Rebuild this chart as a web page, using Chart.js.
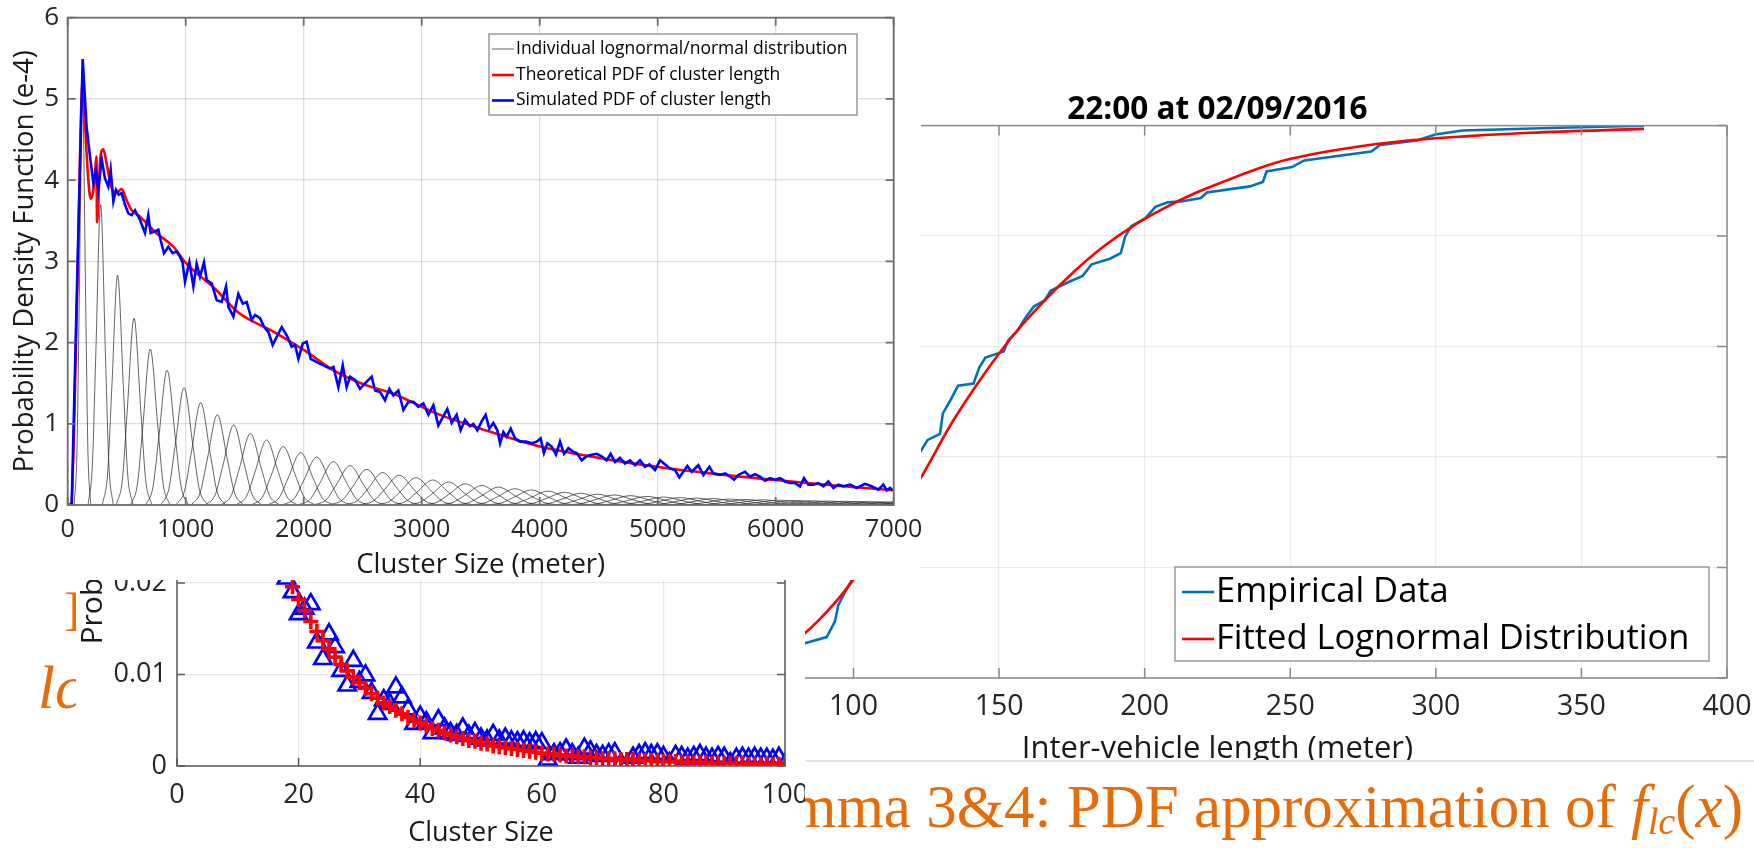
<!DOCTYPE html>
<html lang="en">
<head>
<meta charset="utf-8">
<title>Cluster length PDF</title>
<script src="https://cdn.jsdelivr.net/npm/chart.js@4.4.1/dist/chart.umd.min.js"></script>
<style>
  body { margin: 0; width: 1754px; height: 848px; position: relative; overflow: hidden; background: #fff; }
  .panel { position: absolute; background: #fff; overflow: hidden; }
  .box { position: relative; }
  .slide { position: absolute; color: #E46C0A; font-family: 'Liberation Serif', 'Times New Roman', serif; white-space: nowrap; line-height: 1; }
  .slide sub { font-size: 0.62em; vertical-align: -0.18em; line-height: 0; }
</style>
</head>
<body>

<div class="slide" style="left:64px;top:586px;font-size:47px">]</div>
<div class="slide" style="left:38px;top:657px;font-size:61px;font-style:italic">lc</div>
<div class="slide" style="right:11px;top:776px;font-size:61px">Lemma 3&amp;4: PDF approximation of <i>f</i><sub><i>lc</i></sub>(<i>x</i>)</div>

<div class="panel" style="left:600px;top:60px;width:1154px;height:700px;border-bottom:2px solid #e4e4e4;z-index:1">
  <div class="box" style="width:1154px;height:715px"><canvas id="cdfChart"></canvas></div>
</div>
<div class="panel" style="left:76px;top:360px;width:729px;height:488px;z-index:2">
  <div class="box" style="width:729px;height:488px"><canvas id="sizeChart"></canvas></div>
</div>
<div class="panel" style="left:0;top:0;width:921px;height:580px;z-index:3">
  <div class="box" style="width:921px;height:580px"><canvas id="pdfChart"></canvas></div>
</div>

<script>
// ---- top-left: PDF of cluster length (values in e-4) ----
const simX = [
  34, 76, 127, 160, 189, 217, 240, 259, 288, 316,
  344, 364, 387, 409, 432, 457, 485, 514, 542, 570,
  613, 655, 683, 703, 740, 768, 788, 816, 853, 889,
  923, 951, 974, 994, 1031, 1065, 1093, 1121, 1155, 1178,
  1220, 1263, 1305, 1342, 1362, 1404, 1446, 1483, 1517, 1559,
  1588, 1630, 1664, 1701, 1737, 1771, 1814, 1856, 1898, 1927,
  1955, 1992, 2025, 2059, 2110, 2167, 2223, 2252, 2294, 2331,
  2364, 2393, 2435, 2477, 2534, 2576, 2605, 2647, 2689, 2726,
  2760, 2802, 2845, 2887, 2930, 2972, 3014, 3057, 3099, 3141,
  3183, 3217, 3254, 3296, 3330, 3367, 3409, 3438, 3471, 3508,
  3542, 3573, 3607, 3641, 3664, 3692, 3720, 3754, 3791, 3833,
  3884, 3932, 3974, 4008, 4036, 4065, 4101, 4138, 4172, 4206,
  4243, 4279, 4313, 4356, 4398, 4440, 4483, 4525, 4567, 4601,
  4638, 4680, 4723, 4765, 4808, 4850, 4892, 4929, 4977, 5020,
  5053, 5104, 5147, 5183, 5217, 5251, 5288, 5344, 5387, 5438,
  5472, 5528, 5571, 5613, 5647, 5683, 5740, 5782, 5825, 5867,
  5909, 5952, 5994, 6037, 6079, 6121, 6164, 6206, 6240, 6277,
  6319, 6362, 6404, 6446, 6489, 6531, 6573, 6630, 6687, 6757,
  6813, 6870, 6912, 6941, 6969, 6991
];
const simY = [
  0, 2.52, 5.49, 4.66, 4.29, 3.97, 4.12, 3.88, 4.26, 4.02,
  3.92, 4.13, 3.74, 3.88, 3.82, 3.84, 3.70, 3.59, 3.57, 3.63,
  3.51, 3.35, 3.57, 3.35, 3.37, 3.39, 3.26, 3.10, 3.18, 3.10,
  3.12, 3.06, 2.98, 2.75, 2.99, 2.69, 2.97, 2.81, 2.99, 2.77,
  2.73, 2.52, 2.50, 2.69, 2.44, 2.32, 2.60, 2.48, 2.50, 2.28,
  2.34, 2.30, 2.19, 2.13, 1.97, 2.07, 2.19, 2.09, 1.95, 1.97,
  1.80, 1.99, 2.01, 1.80, 1.76, 1.72, 1.68, 1.70, 1.45, 1.72,
  1.45, 1.58, 1.54, 1.43, 1.52, 1.58, 1.41, 1.39, 1.29, 1.43,
  1.35, 1.41, 1.17, 1.27, 1.27, 1.21, 1.25, 1.11, 1.23, 0.98,
  1.09, 1.18, 1.01, 1.11, 0.92, 1.05, 0.97, 1.00, 0.92, 1.03,
  1.11, 0.94, 1.01, 0.92, 0.76, 0.90, 0.84, 0.94, 0.82, 0.78,
  0.78, 0.76, 0.78, 0.82, 0.64, 0.76, 0.72, 0.62, 0.78, 0.63,
  0.70, 0.66, 0.64, 0.55, 0.60, 0.62, 0.63, 0.60, 0.55, 0.63,
  0.53, 0.58, 0.51, 0.55, 0.49, 0.55, 0.47, 0.50, 0.43, 0.55,
  0.51, 0.45, 0.43, 0.34, 0.41, 0.48, 0.41, 0.49, 0.37, 0.47,
  0.39, 0.37, 0.39, 0.35, 0.31, 0.37, 0.41, 0.35, 0.38, 0.35,
  0.30, 0.33, 0.31, 0.33, 0.29, 0.27, 0.27, 0.23, 0.33, 0.25,
  0.25, 0.27, 0.23, 0.29, 0.21, 0.25, 0.23, 0.25, 0.21, 0.26,
  0.23, 0.19, 0.25, 0.18, 0.21, 0.18
];
const theoX = [0, 30, 80, 127, 150, 175, 195, 215, 235, 243, 249, 275, 302, 330, 373, 410, 457, 500, 542, 613,
  750, 895, 1000, 1250, 1446, 1750, 2000, 2250, 2500, 2760, 3000, 3155, 3500, 4003, 4500, 4991, 5500, 5975, 6500, 6966, 7000];
const theoY = [0, 0.02, 2.6, 5.22, 4.6, 4.0, 3.77, 3.85, 4.15, 4.29, 3.48, 4.25, 4.38, 4.2, 3.9, 3.84, 3.89, 3.75, 3.63, 3.55,
  3.35, 3.18, 2.98, 2.66, 2.37, 2.13, 1.91, 1.66, 1.49, 1.37, 1.21, 1.11, 0.94, 0.72, 0.58, 0.47, 0.38, 0.31, 0.24, 0.185, 0.18];

// individual component curves: peak position, peak height, half width at half height
const greyPeakX = [125, 279, 423, 562, 700, 842, 986, 1127, 1268, 1407, 1548, 1686, 1827, 1974, 2110, 2251, 2392, 2534,
  2669, 2810, 2952, 3093, 3229, 3370, 3510, 3650, 3790, 3930, 4070, 4210, 4350, 4490, 4630, 4770, 4910, 5050,
  5190, 5330, 5470, 5610, 5750, 5890, 6030, 6170, 6310, 6450, 6590, 6730, 6870, 7010, 7150, 7290];
const greyPeakY = [5.1, 3.70, 2.83, 2.30, 1.92, 1.66, 1.445, 1.26, 1.11, 0.985, 0.88, 0.80, 0.72, 0.645, 0.59, 0.535, 0.485, 0.44,
  0.40, 0.366, 0.336, 0.308, 0.283, 0.26, 0.24, 0.22, 0.20, 0.185, 0.17, 0.156, 0.145, 0.134, 0.124, 0.115, 0.106, 0.098,
  0.091, 0.085, 0.079, 0.073, 0.068, 0.064, 0.060, 0.056, 0.052, 0.049, 0.046, 0.043, 0.040, 0.038, 0.036, 0.034];
const greyHalfW = [27, 41, 50, 58, 64, 70, 76, 81, 86, 91, 95, 100, 104, 108, 112, 115, 118, 122,
  125, 129, 132, 136, 138, 141, 144, 147, 150, 152, 155, 158, 160, 162, 166, 168, 170, 172,
  175, 177, 179, 182, 184, 186, 189, 191, 193, 194, 197, 199, 201, 204, 205, 207];

// ---- top-right: CDF of inter-vehicle length ----
const empX = [75, 83.3, 90.8, 93.6, 94.8, 97.7, 99.4, 105, 112, 118, 122.4, 125.5, 129.7, 130.7, 133.4, 135.9, 141.2, 143.2,
  145.3, 151.6, 153.1, 156.4, 159.3, 162.0, 165.6, 167.7, 173.5, 178.7, 181.8, 188.1, 191.8, 193.3, 195.4, 200.2,
  203.7, 207.9, 213.1, 219.3, 221.4, 236.1, 240.6, 241.9, 250.6, 254.8, 277.8, 280.9, 293.5, 299.8, 309.2, 342.6, 371.5];
const empY = [0.045, 0.063, 0.074, 0.102, 0.132, 0.162, 0.177, 0.24, 0.31, 0.37, 0.405, 0.431, 0.442, 0.479, 0.504, 0.529, 0.533, 0.562,
  0.580, 0.591, 0.611, 0.629, 0.654, 0.673, 0.683, 0.701, 0.716, 0.728, 0.749, 0.759, 0.769, 0.799, 0.818, 0.832,
  0.853, 0.861, 0.863, 0.869, 0.879, 0.890, 0.898, 0.917, 0.925, 0.937, 0.953, 0.965, 0.973, 0.984, 0.991, 0.996, 1.0];
const fitX = [75, 83.3, 91.9, 99.4, 110, 122.4, 133.9, 144.3, 154.8, 165.2, 175.6, 186.1, 196.5, 206.9, 217.4, 227.8,
  238.3, 248.7, 269.6, 290.5, 311.4, 332.3, 371.5];
const fitY = [0.05, 0.081, 0.126, 0.174, 0.26, 0.356, 0.463, 0.546, 0.62, 0.681, 0.735, 0.782, 0.82, 0.851, 0.878, 0.90,
  0.921, 0.938, 0.959, 0.973, 0.981, 0.987, 0.994];

// ---- bottom-left: PMF of cluster size ----
const clusterSize = [18, 19, 20, 21, 22, 23, 24, 25, 26, 27, 28, 29, 30, 31, 32, 33, 34, 35, 36, 37, 38, 39,
  40, 41, 42, 43, 44, 45, 46, 47, 48, 49, 50, 51, 52, 53, 54, 55, 56, 57, 58, 59, 60, 61, 62, 63, 64, 65, 66, 67, 68, 69,
  70, 71, 72, 73, 74, 75, 76, 77, 78, 79, 80, 81, 82, 83, 84, 85, 86, 87, 88, 89, 90, 91, 92, 93, 94, 95, 96, 97, 98, 99, 100];
const sizeTheory = [0.0212, 0.0196, 0.0182, 0.0170, 0.0158, 0.0147, 0.0137, 0.0128, 0.0119, 0.0111, 0.0104, 0.0097, 0.0091,
  0.0085, 0.0079, 0.0074, 0.0069, 0.0065, 0.0061, 0.0057, 0.0053, 0.0050, 0.0047, 0.0044, 0.0041, 0.0039, 0.0036, 0.0034,
  0.0032, 0.0030, 0.0028, 0.0027, 0.0025, 0.0024, 0.0022, 0.0021, 0.0020, 0.0019, 0.0018, 0.0017, 0.0016, 0.0015, 0.0014,
  0.0013, 0.0013, 0.0012, 0.0011, 0.0011, 0.0010, 0.0010, 0.0009, 0.0009, 0.0008, 0.0008, 0.0008, 0.0007, 0.0007, 0.0007,
  0.0006, 0.0006, 0.0006, 0.0005, 0.0005, 0.0005, 0.0005, 0.0004, 0.0004, 0.0004, 0.0004, 0.0004, 0.0003, 0.0003, 0.0003,
  0.0003, 0.0003, 0.0003, 0.0002, 0.0002, 0.0002, 0.0002, 0.0002, 0.0002, 0.0002];
const sizeSim = [0.0205, 0.0190, 0.0166, 0.0172, 0.0177, 0.0135, 0.0117, 0.0144, 0.0130, 0.0104, 0.0088, 0.0115, 0.0092,
  0.0099, 0.0080, 0.0057, 0.0072, 0.0068, 0.0086, 0.0075, 0.0062, 0.0046, 0.0054, 0.0048, 0.0036, 0.0050, 0.0041, 0.0036,
  0.0034, 0.0041, 0.0033, 0.0036, 0.0030, 0.0028, 0.0034, 0.0028, 0.0030, 0.0027, 0.0026, 0.0027, 0.0025, 0.0026, 0.0025,
  0.0007, 0.0013, 0.0014, 0.0018, 0.0013, 0.0009, 0.0019, 0.0016, 0.0012, 0.0011, 0.0013, 0.0014, 0.0002, 0.0001, 0.0009,
  0.0012, 0.0014, 0.0012, 0.0013, 0.0010, 0.0003, 0.0011, 0.0010, 0.0008, 0.0010, 0.0012, 0.0009, 0.0008, 0.0010, 0.0009,
  0.0003, 0.0008, 0.0009, 0.0008, 0.0009, 0.0008, 0.0008, 0.0007, 0.0009, 0.0002];

const FONT = "'Open Sans', 'DejaVu Sans', sans-serif";
const TICK = '#262626';
const pts = (xs, ys) => xs.map((x, i) => ({ x: x, y: ys[i] }));

// MATLAB style box with inward tick marks
const boxFrame = {
  id: 'boxFrame',
  afterDatasetsDraw(chart, args, o) {
    const { ctx, chartArea: a } = chart;
    const x = chart.scales.x, y = chart.scales.y;
    ctx.save();
    ctx.strokeStyle = o.color;
    ctx.lineWidth = o.width;
    ctx.strokeRect(a.left, a.top, a.right - a.left, a.bottom - a.top);
    ctx.beginPath();
    x.ticks.forEach(t => {
      const p = x.getPixelForValue(t.value);
      ctx.moveTo(p, a.bottom); ctx.lineTo(p, a.bottom - o.len);
      ctx.moveTo(p, a.top); ctx.lineTo(p, a.top + o.len);
    });
    y.ticks.forEach(t => {
      const p = y.getPixelForValue(t.value);
      ctx.moveTo(a.left, p); ctx.lineTo(a.left + o.len, p);
      ctx.moveTo(a.right, p); ctx.lineTo(a.right - o.len, p);
    });
    ctx.stroke();
    ctx.restore();
  }
};

// legend drawn in a box inside the axes
const boxLegend = {
  id: 'boxLegend',
  afterDraw(chart, args, o) {
    const ctx = chart.ctx;
    ctx.save();
    ctx.fillStyle = '#fff';
    ctx.fillRect(o.x, o.y, o.w, o.h);
    ctx.strokeStyle = o.border;
    ctx.lineWidth = 1.5;
    ctx.strokeRect(o.x, o.y, o.w, o.h);
    ctx.font = o.font;
    ctx.textBaseline = 'middle';
    o.items.forEach((idx, i) => {
      const ds = chart.data.datasets[idx];
      const yy = o.y + o.rows[i];
      ctx.strokeStyle = ds.borderColor;
      ctx.lineWidth = ds.borderWidth;
      ctx.beginPath();
      ctx.moveTo(o.x + o.line[0], yy);
      ctx.lineTo(o.x + o.line[1], yy);
      ctx.stroke();
      ctx.fillStyle = '#000';
      ctx.fillText(ds.label, o.x + o.textX, yy);
    });
    ctx.restore();
  }
};

// bell outline through the read peak and the half-height crossings
const greySets = greyPeakX.map((p, i) => {
  const h = greyPeakY[i], w = greyHalfW[i];
  return {
    label: i === 0 ? 'Individual lognormal/normal distribution' : '',
    data: [
      { x: p - 2.6 * w, y: 0 }, { x: p - 1.7 * w, y: 0.135 * h }, { x: p - w, y: h / 2 }, { x: p, y: h },
      { x: p + w, y: h / 2 }, { x: p + 1.7 * w, y: 0.135 * h }, { x: p + 2.6 * w, y: 0 }
    ],
    borderColor: 'rgba(40,40,40,0.72)',
    borderWidth: 1,
    cubicInterpolationMode: 'monotone'
  };
});

new Chart(document.getElementById('pdfChart'), {
  type: 'line',
  data: {
    datasets: [
      { label: 'Simulated PDF of cluster length', data: pts(simX, simY), borderColor: '#0000FF', borderWidth: 2.6, tension: 0 },
      { label: 'Theoretical PDF of cluster length', data: pts(theoX, theoY), borderColor: '#FF0000', borderWidth: 2.6, cubicInterpolationMode: 'monotone' },
      ...greySets
    ]
  },
  options: {
    responsive: true,
    maintainAspectRatio: false,
    animation: false,
    elements: { point: { radius: 0 } },
    layout: { padding: { left: 0, right: 27.3, top: 17.7, bottom: 0 } },
    plugins: {
      legend: { display: false },
      tooltip: { enabled: false },
      boxFrame: { color: '#6e6e6e', width: 1.8, len: 8 },
      boxLegend: { x: 489, y: 34, w: 368, h: 81, rows: [15, 41, 66.5], line: [3, 25], textX: 27,
        items: [2, 1, 0], border: '#9a9a9a', font: "17.5px " + FONT }
    },
    scales: {
      x: {
        type: 'linear', min: 0, max: 7000,
        afterFit: s => { s.height = 75; s.paddingLeft = 0; s.paddingRight = 0; },
        ticks: { stepSize: 1000, color: TICK, padding: 9.4, maxRotation: 0, font: { family: FONT, size: 25 }, callback: v => String(v) },
        grid: { color: 'rgba(0,0,0,0.13)', lineWidth: 1.3, drawTicks: false },
        border: { display: false },
        title: { display: true, text: 'Cluster Size (meter)', color: '#1a1a1a', padding: { top: 0, bottom: 1.25 }, font: { family: FONT, size: 27.5, lineHeight: 1 } }
      },
      y: {
        min: 0, max: 6,
        afterFit: s => { s.width = 67.7; s.paddingTop = 0; s.paddingBottom = 0; },
        ticks: { stepSize: 1, color: TICK, padding: 8.7, font: { family: FONT, size: 26 } },
        grid: { color: 'rgba(0,0,0,0.13)', lineWidth: 1.3, drawTicks: false },
        border: { display: false },
        title: { display: true, text: 'Probability Density Function (e-4)', color: '#1a1a1a', padding: { top: 11.25, bottom: 0 }, font: { family: FONT, size: 27.5, lineHeight: 1 } }
      }
    }
  },
  plugins: [boxFrame, boxLegend]
});

new Chart(document.getElementById('cdfChart'), {
  type: 'line',
  data: {
    datasets: [
      { label: 'Fitted Lognormal Distribution', data: pts(fitX, fitY), borderColor: '#FF0000', borderWidth: 2.6, cubicInterpolationMode: 'monotone' },
      { label: 'Empirical Data', data: pts(empX, empY), borderColor: '#0072BD', borderWidth: 2.6, tension: 0 }
    ]
  },
  options: {
    responsive: true,
    maintainAspectRatio: false,
    animation: false,
    elements: { point: { radius: 0 } },
    layout: { padding: { left: 0, right: 27, top: 0, bottom: 0 } },
    plugins: {
      legend: { display: false },
      tooltip: { enabled: false },
      boxFrame: { color: '#8a8a8a', width: 1.5, len: 10 },
      boxLegend: { x: 575, y: 507, w: 534, h: 94, rows: [25, 72], line: [7, 39], textX: 41,
        items: [1, 0], border: '#9a9a9a', font: "34.5px " + FONT }
    },
    scales: {
      x: {
        type: 'linear', min: 50, max: 400,
        afterFit: s => { s.height = 97; s.paddingLeft = 0; s.paddingRight = 0; },
        ticks: { stepSize: 50, color: TICK, padding: 11.9, maxRotation: 0, font: { family: FONT, size: 28.5 } },
        grid: { color: 'rgba(0,0,0,0.075)', lineWidth: 1.3, drawTicks: false },
        border: { display: false },
        title: { display: true, text: 'Inter-vehicle length (meter)', color: '#1a1a1a', padding: { top: 0, bottom: 10 }, font: { family: FONT, size: 31, lineHeight: 1 } }
      },
      xTop: {
        type: 'linear', position: 'top', min: 50, max: 400,
        afterFit: s => { s.height = 65.6; s.paddingLeft = 0; s.paddingRight = 0; },
        ticks: { display: false },
        grid: { display: false },
        border: { display: false },
        title: { display: true, text: '22:00 at 02/09/2016', color: '#000', padding: { top: 34, bottom: 0 }, font: { family: FONT, size: 31.5, weight: 'bold', lineHeight: 1 } }
      },
      y: {
        min: 0, max: 1,
        afterFit: s => { s.width = 107.9; s.paddingTop = 0; s.paddingBottom = 0; },
        ticks: { stepSize: 0.2, color: TICK, padding: 8, font: { family: FONT, size: 28.5 } },
        grid: { color: 'rgba(0,0,0,0.075)', lineWidth: 1.3, drawTicks: false },
        border: { display: false }
      }
    }
  },
  plugins: [boxFrame, boxLegend]
});

new Chart(document.getElementById('sizeChart'), {
  type: 'line',
  data: {
    datasets: [
      { label: 'Theoretical', data: pts(clusterSize, sizeTheory), showLine: false, pointStyle: 'cross',
        pointRadius: 7.5, pointBorderWidth: 3.6, borderColor: '#FF0000', backgroundColor: 'transparent' },
      { label: 'Simulated', data: pts(clusterSize, sizeSim), showLine: false, pointStyle: 'triangle',
        pointRadius: 10, pointBorderWidth: 2.7, borderColor: '#0000FF', backgroundColor: 'transparent' }
    ]
  },
  options: {
    responsive: true,
    maintainAspectRatio: false,
    animation: false,
    layout: { padding: { left: 0, right: 20, top: 10.4, bottom: 0 } },
    plugins: {
      legend: { display: false },
      tooltip: { enabled: false },
      boxFrame: { color: '#5a5a5a', width: 1.5, len: 8 }
    },
    scales: {
      x: {
        type: 'linear', min: 0, max: 100,
        afterFit: s => { s.height = 82; s.paddingLeft = 0; s.paddingRight = 0; },
        ticks: { stepSize: 20, color: TICK, padding: 12.8, maxRotation: 0, font: { family: FONT, size: 27 } },
        grid: { color: 'rgba(0,0,0,0.09)', lineWidth: 1.3, drawTicks: false },
        border: { display: false },
        title: { display: true, text: 'Cluster Size', color: '#1a1a1a', padding: { top: 0, bottom: 1.5 }, font: { family: FONT, size: 27, lineHeight: 1 } }
      },
      y: {
        min: 0, max: 0.043,
        afterFit: s => { s.width = 101; s.paddingTop = 0; s.paddingBottom = 0; },
        ticks: { stepSize: 0.01, color: TICK, padding: 10, font: { family: FONT, size: 27 } },
        grid: { color: 'rgba(0,0,0,0.09)', lineWidth: 1.3, drawTicks: false },
        border: { display: false },
        title: { display: true, text: 'Probability', color: '#1a1a1a', padding: { top: 2, bottom: 0 }, font: { family: FONT, size: 30, lineHeight: 1 } }
      }
    }
  },
  plugins: [boxFrame]
});
</script>
</body>
</html>
